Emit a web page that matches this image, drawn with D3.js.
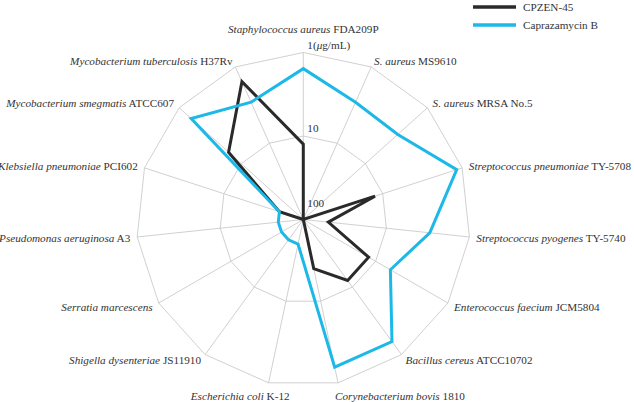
<!DOCTYPE html>
<html>
<head>
<meta charset="utf-8">
<script src="https://cdn.jsdelivr.net/npm/d3@7"></script>
<style>
  body { margin: 0; background: #fff; }
  svg text { font-family: "Liberation Serif", "DejaVu Serif", serif; fill: #333; }
</style>
</head>
<body>
<svg id="chart" width="634" height="402"></svg>
<script>
// ---------------------------//
//          DATA              //
// ---------------------------//
var species = [
  "Staphylococcus aureus", "S. aureus", "S. aureus", "Streptococcus pneumoniae",
  "Streptococcus pyogenes", "Enterococcus faecium", "Bacillus cereus",
  "Corynebacterium bovis", "Escherichia coli", "Shigella dysenteriae",
  "Serratia marcescens", "Pseudomonas aeruginosa", "Klebsiella pneumoniae",
  "Mycobacterium smegmatis", "Mycobacterium tuberculosis"
];
var strains = [
  "FDA209P", "MS9610", "MRSA No.5", "TY-5708", "TY-5740", "JCM5804", "ATCC10702",
  "1810", "K-12", "JS11910", "", "A3", "PCI602", "ATCC607", "H37Rv"
];
// MIC (ug/mL)
var cpzen45 = [12.5, 100, 100, 12.5, 50, 12.5, 12.5, 25, 100, 100, 100, 100, 50, 6.25, 1.56];
var caprazamycinB = [1.56, 2.9, 3.0, 1.17, 3.0, 6.25, 1.56, 1.56, 50, 50, 50, 50, 50, 1.56, 2.9];
var ringTicks = [100, 10, 1];
var seriesNames = ["CPZEN-45", "Caprazamycin B"];
var seriesColors = ["#2a2a2a", "#1cb8e8"];

// ---------------------------//
//          MAIN              //
// ---------------------------//
var svg = d3.select("#chart");
var cx = 303.3, cy = 219.5, R = 167;
var n = species.length;
var fs = 11.2;

var r = d3.scaleLog().domain([100, 1]).range([0, R]).clamp(true);
var angle = d3.scaleLinear().domain([0, n]).range([0, 2 * Math.PI]);

function pt(i, rad) {
  var a = angle(i);
  return [cx + rad * Math.sin(a), cy - rad * Math.cos(a)];
}

var g = svg.append("g");

// grid rings (polygons)
ringTicks.filter(function(t) { return t < 100; }).forEach(function(t) {
  var pts = d3.range(n).map(function(i) { return pt(i, r(t)); });
  g.append("polygon")
    .attr("points", pts.map(function(p) { return p.join(","); }).join(" "))
    .attr("fill", "none")
    .attr("stroke", "#cbcbcb")
    .attr("stroke-width", 0.9);
});

// spokes
g.selectAll("line.spoke")
  .data(d3.range(n))
  .enter()
  .append("line")
  .attr("class", "spoke")
  .attr("x1", cx).attr("y1", cy)
  .attr("x2", function(i) { return pt(i, R)[0]; })
  .attr("y2", function(i) { return pt(i, R)[1]; })
  .attr("stroke", "#cbcbcb")
  .attr("stroke-width", 0.9);

// series
var line = d3.line().curve(d3.curveLinearClosed);
[cpzen45, caprazamycinB].forEach(function(vals, k) {
  g.append("path")
    .attr("d", line(vals.map(function(v, i) { return pt(i, r(v)); })))
    .attr("fill", "none")
    .attr("stroke", seriesColors[k])
    .attr("stroke-width", 3)
    .attr("stroke-linejoin", "miter");
});

// ring tick labels
ringTicks.forEach(function(t) {
  var rad = r(t);
  var txt = g.append("text")
    .attr("x", cx + 4)
    .attr("y", cy - Math.max(rad, 9) - 4)
    .attr("font-size", fs);
  if (t === 1) {
    txt.append("tspan").text("1(");
    txt.append("tspan").attr("font-style", "italic").text("\u03bc");
    txt.append("tspan").text("g/mL)");
  } else {
    txt.text(t);
  }
});

// axis labels
d3.range(n).forEach(function(i) {
  var a = angle(i);
  var s = Math.sin(a), c = Math.cos(a);
  var v = pt(i, R);
  var x, y, anchor;
  if (i === 0) {
    x = v[0]; y = v[1] - 20; anchor = "middle";
  } else if (Math.abs(c) > 0.95) {
    // bottom labels
    y = v[1] + 17;
    if (s > 0) { x = v[0] - 3; anchor = "start"; }
    else { x = v[0] + 21; anchor = "end"; }
  } else {
    x = v[0] + s * 7;
    y = v[1] - c * 7 + 4;
    anchor = s > 0 ? "start" : "end";
  }
  var txt = g.append("text")
    .attr("x", x).attr("y", y)
    .attr("text-anchor", anchor)
    .attr("font-size", fs);
  txt.append("tspan").attr("font-style", "italic").text(species[i]);
  if (strains[i]) txt.append("tspan").text(" " + strains[i]);
});

// legend
var legend = svg.append("g").attr("transform", "translate(473,7)");
seriesNames.forEach(function(name, k) {
  legend.append("line")
    .attr("x1", 0).attr("x2", 43)
    .attr("y1", k * 18).attr("y2", k * 18)
    .attr("stroke", seriesColors[k])
    .attr("stroke-width", 3.5);
  legend.append("text")
    .attr("x", 50).attr("y", k * 18 + 4)
    .attr("font-size", fs)
    .text(name);
});
</script>
</body>
</html>
